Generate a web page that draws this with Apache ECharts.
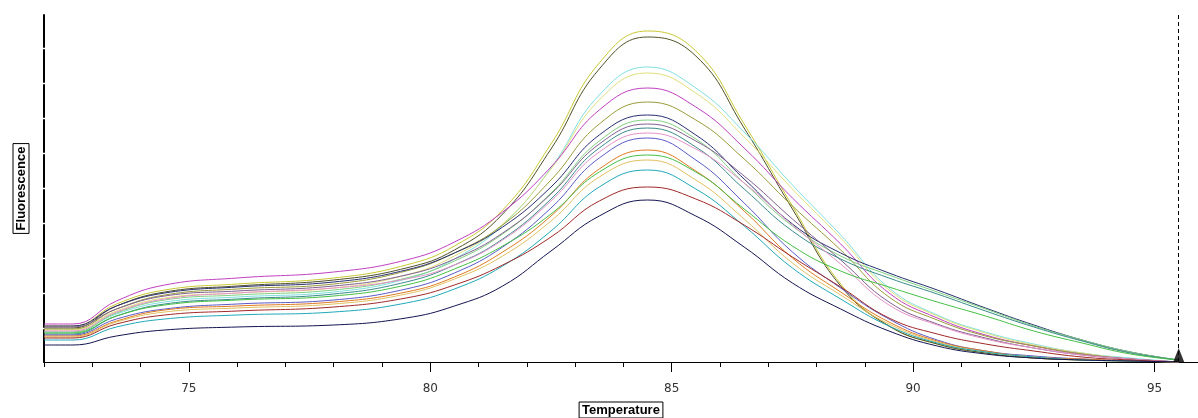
<!DOCTYPE html>
<html>
<head>
<meta charset="utf-8">
<title>Melt curve</title>
<script src="https://cdn.jsdelivr.net/npm/echarts@6/dist/echarts.min.js"></script>
<style>
  html, body { margin: 0; padding: 0; background: #fff; }
  #main { width: 1198px; height: 418px; }
</style>
</head>
<body>
<div id="main"></div>
<script>
const temps = [72, 72.6, 73.5, 74.5, 76, 78, 79.5, 80.5, 81.5, 82.5, 83.5, 84.5, 85.5, 86.5, 87.5, 88.5, 89.5, 90.5, 91.5, 92.5, 93.5, 94.5, 95.5];

const wellColors = ["#c8c832", "#505028", "#7fdfdf", "#dede7a", "#c040c0", "#9a9a3a", "#283070", "#7fd07f", "#806090",
  "#3a8a8a", "#e590c8", "#5a5ac8", "#e07a20", "#44c044", "#e0c060", "#20a8b8", "#a02828", "#141450"];

const well01 = [36, 36, 58, 72, 78, 84, 97, 116, 152, 218, 299, 331, 311, 238, 156, 78, 36, 18, 9, 4, 2, 1, 0];
const well02 = [34, 34, 56, 70, 76, 82, 94, 112, 148, 213, 293, 325, 306, 234, 153, 76, 36, 18, 9, 4, 2, 1, 0];
const well03 = [30, 30, 48, 60, 65, 70, 83, 103, 137, 194, 267, 295, 274, 230, 177, 127, 74, 47, 30, 18, 9, 4, 0];
const well04 = [32, 32, 51, 64, 69, 74, 87, 106, 138, 193, 262, 289, 269, 225, 173, 124, 72, 46, 29, 17, 9, 3, 0];
const well05 = [38, 38, 61, 77, 84, 90, 102, 120, 150, 195, 252, 274, 255, 214, 164, 118, 69, 44, 27, 16, 8, 3, 0];
const well06 = [33, 33, 53, 67, 73, 78, 91, 109, 137, 182, 238, 260, 242, 203, 156, 112, 65, 42, 26, 16, 8, 3, 0];
const well07 = [36, 36, 56, 69, 75, 80, 92, 109, 135, 175, 227, 247, 227, 183, 138, 109, 89, 72, 54, 37, 22, 10, 2];
const well08 = [30, 30, 49, 62, 67, 72, 84, 101, 128, 169, 221, 242, 223, 179, 136, 106, 87, 70, 53, 36, 22, 10, 2];
const well09 = [35, 35, 53, 66, 71, 76, 87, 103, 129, 168, 218, 238, 221, 186, 143, 102, 60, 38, 24, 14, 7, 3, 0];
const well10 = [28, 28, 46, 58, 63, 68, 80, 97, 123, 163, 214, 234, 215, 173, 131, 103, 84, 68, 51, 35, 21, 9, 2];
const well11 = [31, 31, 50, 63, 69, 74, 83, 97, 122, 161, 210, 229, 213, 179, 137, 98, 57, 37, 23, 14, 7, 3, 0];
const well12 = [27, 27, 43, 53, 58, 62, 73, 89, 115, 154, 204, 224, 202, 159, 110, 74, 43, 22, 11, 6, 3, 1, 0];
const well13 = [26, 26, 41, 52, 56, 60, 70, 85, 110, 146, 193, 212, 191, 151, 104, 70, 40, 21, 11, 5, 3, 1, 0];
const well14 = [29, 29, 46, 57, 62, 66, 77, 93, 116, 148, 190, 207, 190, 153, 116, 91, 75, 60, 46, 31, 19, 8, 2];
const well15 = [25, 25, 40, 50, 54, 58, 68, 83, 106, 141, 185, 202, 182, 143, 99, 67, 38, 20, 10, 5, 2, 1, 0];
const well16 = [22, 22, 35, 43, 47, 50, 59, 73, 96, 131, 175, 192, 173, 136, 94, 63, 36, 19, 10, 5, 2, 1, 0];
const well17 = [24, 24, 38, 47, 51, 55, 64, 77, 97, 125, 161, 175, 163, 137, 105, 75, 44, 28, 18, 11, 5, 2, 0];
const well18 = [17, 17, 26, 32, 35, 37, 44, 56, 76, 111, 146, 162, 146, 115, 79, 53, 31, 16, 8, 4, 2, 1, 0];

const wells = [well01, well02, well03, well04, well05, well06, well07, well08, well09,
  well10, well11, well12, well13, well14, well15, well16, well17, well18];

const majorTicks = [75, 80, 85, 90, 95];
const cursorTemp = 95.5;

const myChart = echarts.init(document.getElementById("main"));

const lineSeries = wells.map(function (w, i) {
  return {
    type: "line",
    xAxisIndex: 0,
    data: temps.map(function (t, k) { return [t, w[k]]; }),
    smooth: 0.45,
    showSymbol: false,
    lineStyle: { width: 1, color: wellColors[i] },
    z: 3,
  };
});

const option = {
  animation: false,
  backgroundColor: "#fff",
  grid: { left: 44, right: 0, top: 15, bottom: 56, outerBoundsMode: "none" },
  xAxis: [
    {
      type: "value",
      min: 72,
      max: 95.9,
      interval: 1,
      splitLine: { show: false },
      axisLine: { lineStyle: { color: "#000", width: 1 } },
      axisTick: { length: 5, lineStyle: { color: "#000" } },
      axisLabel: { show: false },
    },
    {
      type: "value",
      position: "bottom",
      min: 72,
      max: 95.9,
      splitLine: { show: false },
      axisLine: { show: false },
      axisTick: { customValues: majorTicks, length: 10, lineStyle: { color: "#000" } },
      axisLabel: {
        customValues: majorTicks,
        margin: 21,
        color: "#333",
        fontFamily: "DejaVu Sans",
        fontSize: 12,
      },
      name: "Temperature",
      nameLocation: "middle",
      nameGap: 40,
      nameTextStyle: {
        color: "#000",
        fontWeight: "bold",
        fontFamily: "Liberation Sans",
        fontSize: 13,
        borderColor: "#000",
        borderWidth: 1,
        padding: [2, 3, 1, 3],
      },
    },
  ],
  yAxis: {
    type: "value",
    min: 0,
    max: 347,
    splitLine: { show: false },
    axisTick: { show: false },
    axisLabel: { show: false },
    axisLine: { lineStyle: { color: "#000", width: 2, type: [32, 3] } },
    name: "Fluorescence",
    nameLocation: "middle",
    nameRotate: 90,
    nameGap: 15,
    nameTextStyle: {
      color: "#000",
      fontWeight: "bold",
      fontFamily: "Liberation Sans",
      fontSize: 13,
      borderColor: "#000",
      borderWidth: 1,
      padding: [2, 3, 1, 3],
    },
  },
  series: lineSeries.concat([
    {
      type: "scatter",
      data: [[cursorTemp, 0]],
      symbol: "triangle",
      symbolSize: [11, 14],
      symbolOffset: [0, -7],
      itemStyle: { color: "#000" },
      z: 5,
      markLine: {
        silent: true,
        symbol: "none",
        label: { show: false },
        lineStyle: { color: "#000", width: 1, type: [4, 3] },
        data: [{ xAxis: cursorTemp }],
      },
    },
  ]),
};

myChart.setOption(option);
</script>
</body>
</html>
